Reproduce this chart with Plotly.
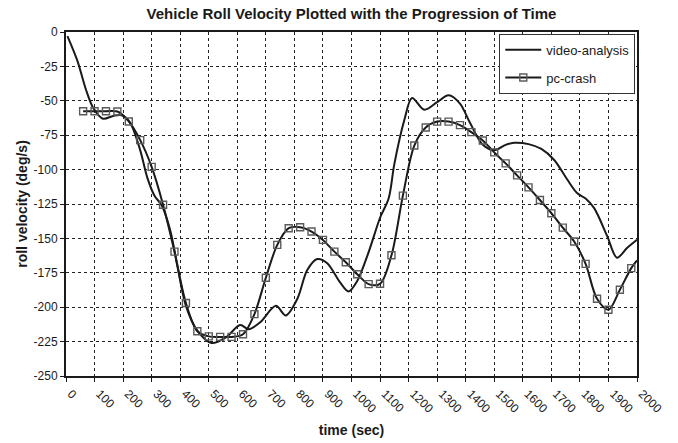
import plotly.graph_objects as go

# ---- data ----
video_t = [5, 40, 70, 95, 130, 165, 195, 225, 260, 285, 310, 335, 365, 390, 420, 460, 510,
           560, 610, 640, 680, 735, 770, 810, 845, 880, 915, 960, 990, 1020, 1060, 1100,
           1130, 1150, 1185, 1212, 1255, 1300, 1340, 1380, 1415, 1460, 1500, 1540, 1570,
           1620, 1665, 1710, 1755, 1790, 1820, 1850, 1895, 1930, 1965, 2000]
video_v = [-3, -21, -42, -55, -63, -61, -60.5, -66, -86, -106, -119, -126, -144, -170, -199,
           -217, -226, -222, -213, -216, -211, -199, -206, -194, -173, -165, -168, -182,
           -188.5, -181, -160, -135, -121, -96, -64, -48, -56.5, -51, -46, -52, -66, -82,
           -86, -82, -80.5, -81.5, -85, -93, -107, -117, -121, -128, -148, -164, -157, -151]

pc_t = [60, 100, 140, 180, 220, 260, 300, 340, 380, 420, 460, 500, 540, 580, 620, 660, 700,
        740, 780, 820, 860, 900, 940, 980, 1020, 1060, 1100, 1140, 1180, 1220, 1260, 1300,
        1340, 1380, 1420, 1460, 1500, 1540, 1580, 1620, 1660, 1700, 1740, 1780, 1820, 1860,
        1900, 1940, 1980, 2000]
pc_v = [-57.6, -57.6, -57.6, -57.8, -65, -78.6, -98, -125.5, -159.6, -197, -217.5, -221.2,
        -221.6, -221.6, -219.7, -205, -178.6, -154.7, -142.6, -141.9, -145, -151.1, -159.6,
        -167.3, -176, -183.2, -183, -162.3, -118.9, -82.5, -69.4, -65.1, -65.1, -67.7, -72.8,
        -78.8, -87.5, -95.5, -104.2, -112.9, -122.1, -131.7, -142.2, -152.3, -168.5, -193.9,
        -201.8, -187.3, -171.6, -166]

x_ticks = list(range(0, 2001, 100))
x_ticklabels = [str(v) for v in x_ticks]
y_ticks = list(range(-250, 1, 25))
y_ticklabels = [str(v) for v in y_ticks]  # plain hyphen-minus

FONT = "Arial, Liberation Sans, sans-serif"
INK = "#1a1a1a"

pc_opacity = [1] * (len(pc_t) - 1) + [0]

fig = go.Figure()
fig.add_trace(go.Scatter(
    x=video_t, y=video_v, mode="lines", name="video-analysis",
    line=dict(color=INK, width=2, shape="spline", smoothing=0.9),
    legendgroup="a",
))
fig.add_trace(go.Scatter(
    x=pc_t, y=pc_v, mode="lines+markers", name="pc-crash",
    line=dict(color=INK, width=2, shape="spline", smoothing=0.9),
    marker=dict(symbol="square-open", size=7, color="#5a5a5a",
                opacity=pc_opacity, line=dict(width=1.4)),
    legendgroup="b",
))

fig.update_layout(
    width=678, height=443,
    margin=dict(l=66, r=41, t=32, b=67, autoexpand=False),
    paper_bgcolor="white", plot_bgcolor="white",
    font=dict(family=FONT, color=INK, size=12),
    title=dict(text="Vehicle Roll Velocity Plotted with the Progression of Time",
               x=0.5, xref="paper", xanchor="center", y=0.97, yref="container",
               yanchor="middle",
               font=dict(family=FONT, size=15, weight="bold", color=INK)),
    showlegend=True,
    legend=dict(x=0.997, y=0.995, xanchor="right", yanchor="top",
                bgcolor="white", bordercolor="#333", borderwidth=1,
                font=dict(family=FONT, size=13, color=INK),
                tracegroupgap=8, itemwidth=36),
)
fig.update_xaxes(
    automargin=False,
    range=[0, 2000], tickmode="array", tickvals=x_ticks, ticktext=x_ticklabels,
    tickangle=45, ticks="outside", ticklen=4, tickcolor=INK,
    ticklabelshift=5,
    tickfont=dict(family=FONT, size=12, color=INK),
    showline=True, linecolor=INK, linewidth=2, mirror=True,
    showgrid=True, gridcolor="#222", griddash="dot", gridwidth=1,
    zeroline=False,
    title=dict(text="time (sec)", standoff=10,
               font=dict(family=FONT, size=14, weight="bold", color=INK)),
)
fig.update_yaxes(
    automargin=False,
    range=[-250, 0], tickmode="array", tickvals=y_ticks, ticktext=y_ticklabels,
    ticks="outside", ticklen=4, tickcolor=INK,
    tickfont=dict(family=FONT, size=12, color=INK),
    showline=True, linecolor=INK, linewidth=2, mirror=True,
    showgrid=True, gridcolor="#222", griddash="dot", gridwidth=1,
    zeroline=False,
    title=dict(text="roll velocity (deg/s)", standoff=3,
               font=dict(family=FONT, size=14, weight="bold", color=INK)),
)

fig.write_html("out.html", config={"displayModeBar": False},
               post_script="document.body.style.margin='0px';")
